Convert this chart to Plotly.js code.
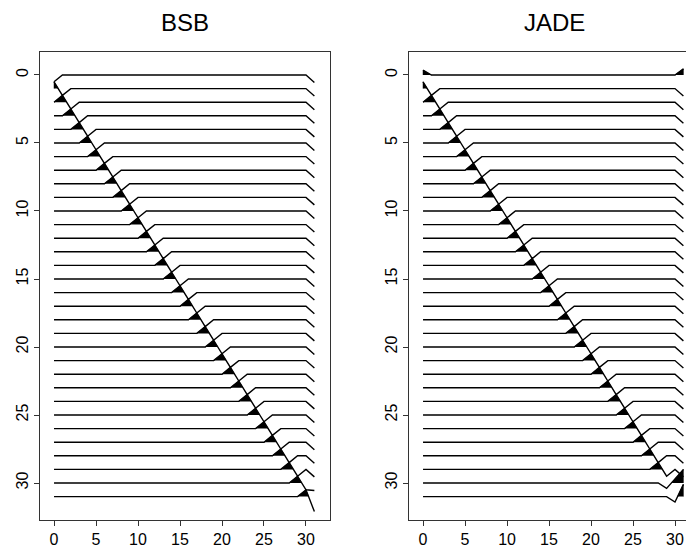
<!DOCTYPE html>
<html>
<head>
<meta charset="utf-8">
<script src="https://cdn.plot.ly/plotly-3.0.1.min.js"></script>
<style>html,body{margin:0;padding:0;background:#fff;}#chart{width:686px;height:548px;}</style>
</head>
<body>
<div id="chart"></div>
<script>
// sample index along each trace
const samples = [0,1,2,3,4,5,6,7,8,9,10,11,12,13,14,15,16,17,18,19,20,21,22,23,24,25,26,27,28,29,30,31];
// trace (row) numbers
const rows = [0,1,2,3,4,5,6,7,8,9,10,11,12,13,14,15,16,17,18,19,20,21,22,23,24,25,26,27,28,29,30,31];
const xTicks = [0,5,10,15,20,25,30];
const yTicks = [0,5,10,15,20,25,30];
const panelTitles = ["BSB", "JADE"];

// BSB: value at sample i-1, at sample i, and extra value at last sample (31)
const bsbPrev = [0,0.5,0.5,0.5,0.5,0.5,0.5,0.5,0.5,0.5,0.5,0.5,0.5,0.5,0.5,0.5,0.5,0.5,0.5,0.5,0.5,0.5,0.5,0.5,0.5,0.5,0.5,0.5,0.5,0.5,0.5,0.5];
const bsbDiag = [-0.5,-0.5,-0.5,-0.5,-0.5,-0.5,-0.5,-0.5,-0.5,-0.5,-0.5,-0.5,-0.5,-0.5,-0.5,-0.5,-0.5,-0.5,-0.5,-0.5,-0.5,-0.5,-0.5,-0.5,-0.5,-0.5,-0.5,-0.5,-0.5,-0.5,-0.5,-0.5];
const bsbEnd  = [-0.55,-0.55,-0.55,-0.55,-0.55,-0.55,-0.55,-0.55,-0.55,-0.55,-0.55,-0.55,-0.55,-0.55,-0.55,-0.55,-0.55,-0.55,-0.55,-0.55,-0.55,-0.55,-0.55,-0.55,-0.55,-0.55,-0.55,-0.55,-0.55,-0.55,-0.55,-0.6];

// JADE: same layout (rows 0, 30, 31 come out sign-flipped)
const jadePrev = [0,0.5,0.5,0.5,0.5,0.5,0.5,0.5,0.5,0.5,0.5,0.5,0.5,0.5,0.5,0.5,0.5,0.5,0.5,0.5,0.5,0.5,0.5,0.5,0.5,0.5,0.5,0.5,0.5,0.5,-0.4,-0.4];
const jadeDiag = [0.35,-0.5,-0.5,-0.5,-0.5,-0.5,-0.5,-0.5,-0.5,-0.5,-0.5,-0.5,-0.5,-0.5,-0.5,-0.5,-0.5,-0.5,-0.5,-0.5,-0.5,-0.5,-0.5,-0.5,-0.5,-0.5,-0.5,-0.5,-0.5,-0.5,0.3,0.45];
const jadeEnd  = [0.45,-0.55,-0.55,-0.55,-0.55,-0.55,-0.55,-0.55,-0.55,-0.55,-0.55,-0.55,-0.55,-0.55,-0.55,-0.55,-0.55,-0.55,-0.55,-0.55,-0.55,-0.55,-0.55,-0.55,-0.55,-0.55,-0.55,-0.55,-0.55,-0.55,1.0,0.45];

function buildSignals(prev, diag, end) {
  const last = samples.length - 1;
  return rows.map(function (r) {
    const v = samples.map(function () { return 0; });
    if (r - 1 >= 0) v[r - 1] += prev[r];
    v[r] += diag[r];
    v[last] += end[r];
    return v;
  });
}

function positivePolys(v, base) {
  const polys = [];
  let cur = null;
  for (let j = 0; j < v.length; j++) {
    if (v[j] > 0) {
      if (!cur) {
        cur = {x: [], y: []};
        if (j > 0) {
          const xc = (j - 1) + (0 - v[j - 1]) / (v[j] - v[j - 1]);
          cur.x.push(xc); cur.y.push(base);
        } else {
          cur.x.push(samples[0]); cur.y.push(base);
        }
      }
      cur.x.push(samples[j]); cur.y.push(base - v[j]);
    } else if (cur) {
      const xc = (j - 1) + v[j - 1] / (v[j - 1] - v[j]);
      cur.x.push(xc); cur.y.push(base);
      polys.push(cur); cur = null;
    }
  }
  if (cur) { cur.x.push(samples[v.length - 1]); cur.y.push(base); polys.push(cur); }
  return polys;
}

function panelTraces(signals, xa, ya) {
  const fills = [], lines = [];
  signals.forEach(function (v, r) {
    positivePolys(v, rows[r]).forEach(function (p) {
      fills.push({type: 'scatter', mode: 'lines', x: p.x, y: p.y, fill: 'toself',
        fillcolor: '#000', line: {width: 0.5, color: '#000'}, xaxis: xa, yaxis: ya,
        hoverinfo: 'skip', showlegend: false});
    });
    lines.push({type: 'scatter', mode: 'lines', x: samples, y: v.map(function (val) { return rows[r] - val; }),
      line: {color: '#000', width: 1.4}, xaxis: xa, yaxis: ya, hoverinfo: 'skip', showlegend: false});
  });
  return fills.concat(lines);
}

const data = panelTraces(buildSignals(bsbPrev, bsbDiag, bsbEnd), 'x', 'y')
  .concat(panelTraces(buildSignals(jadePrev, jadeDiag, jadeEnd), 'x2', 'y2'));

const W = 686, H = 548;
const tickFont = {family: 'Liberation Sans, Arial, sans-serif', size: 16, color: '#000'};
const frameCol = '#333';
function xAxis(domain, range, anchor, mirror) {
  return {domain: domain, range: range, anchor: anchor, tickmode: 'array', tickvals: xTicks,
    ticktext: xTicks.map(String), ticks: 'outside', ticklen: 5, tickwidth: 1, tickcolor: frameCol,
    showline: true, linecolor: frameCol, linewidth: 1, mirror: mirror, showgrid: false, zeroline: false,
    tickfont: tickFont, fixedrange: true};
}
function yAxis(anchor, mirror) {
  return {domain: [(H - 520) / H, (H - 52) / H], range: [32.72, -1.69], anchor: anchor, tickmode: 'array',
    tickvals: yTicks, ticktext: yTicks.map(String), tickangle: -90, ticks: 'outside', ticklen: 5,
    tickwidth: 1, tickcolor: frameCol, showline: true, linecolor: frameCol, linewidth: 1, mirror: mirror,
    showgrid: false, zeroline: false, tickfont: tickFont, fixedrange: true};
}

const layout = {
  width: W, height: H,
  margin: {l: 0, r: 0, t: 0, b: 0, pad: 0},
  paper_bgcolor: '#fff', plot_bgcolor: '#fff',
  showlegend: false,
  xaxis: xAxis([40 / W, 330 / W], [-1.67, 32.86], 'y', true),
  yaxis: yAxis('x', true),
  xaxis2: xAxis([409 / W, 1], [-1.67, 31.31], 'y2', true),
  yaxis2: yAxis('x2', false),
  annotations: [
    {text: panelTitles[0], xref: 'paper', yref: 'paper', x: 185 / W, y: (H - 22) / H, xanchor: 'center', yanchor: 'middle',
      showarrow: false, font: {family: 'Liberation Sans, Arial, sans-serif', size: 24, color: '#000'}},
    {text: panelTitles[1], xref: 'paper', yref: 'paper', x: 554 / W, y: (H - 22) / H, xanchor: 'center', yanchor: 'middle',
      showarrow: false, font: {family: 'Liberation Sans, Arial, sans-serif', size: 24, color: '#000'}}
  ]
};

Plotly.newPlot('chart', data, layout, {staticPlot: true, displayModeBar: false});
</script>
</body>
</html>
